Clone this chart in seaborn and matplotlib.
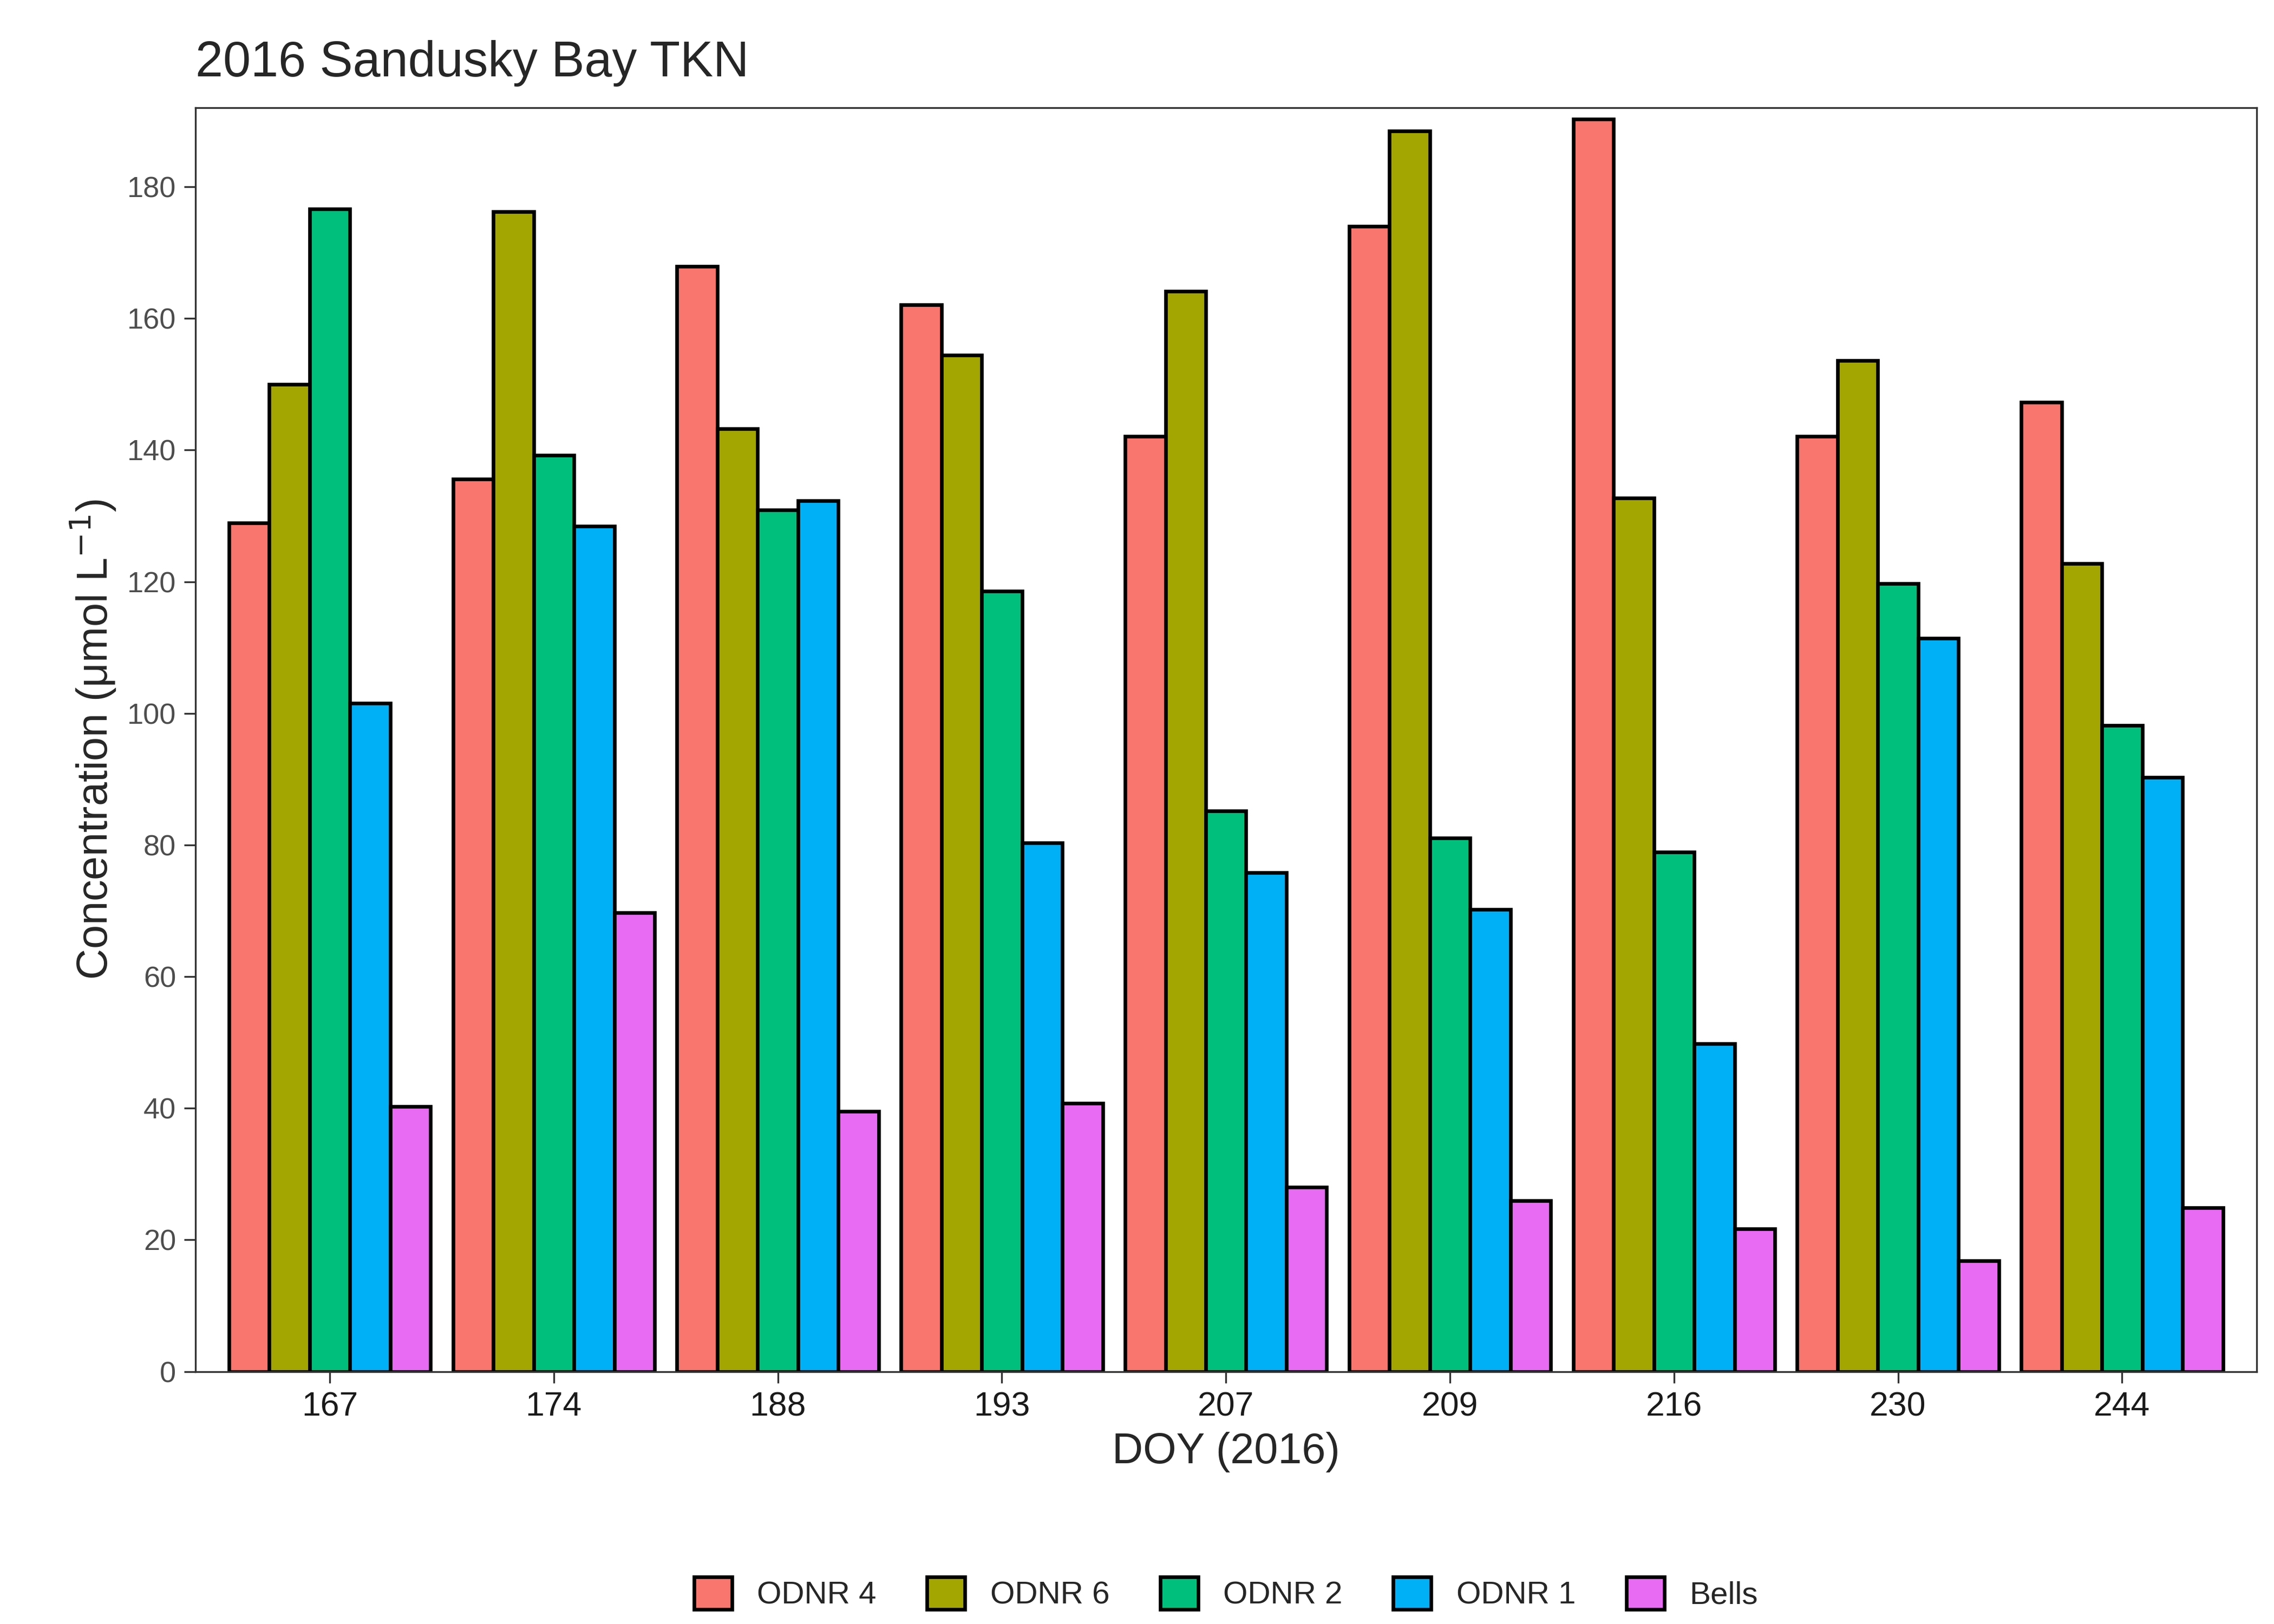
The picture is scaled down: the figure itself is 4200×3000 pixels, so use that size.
import numpy as np
import pandas as pd
import seaborn as sns
import matplotlib.pyplot as plt

days = ['167', '174', '188', '193', '207', '209', '216', '230', '244']
sites = ['ODNR 4', 'ODNR 6', 'ODNR 2', 'ODNR 1', 'Bells']
odnr4 = [128.9, 135.6, 167.9, 162.1, 142.1, 174.0, 190.3, 142.1, 147.3]
odnr6 = [150.0, 176.2, 143.2, 154.4, 164.1, 188.5, 132.7, 153.6, 122.8]
odnr2 = [176.6, 139.2, 130.9, 118.6, 85.2, 81.1, 78.9, 119.7, 98.2]
odnr1 = [101.5, 128.4, 132.3, 80.3, 75.8, 70.2, 49.8, 111.4, 90.3]
bells = [40.3, 69.7, 39.5, 40.8, 28.0, 26.0, 21.7, 16.8, 24.9]
colors = ['#F8766D', '#A3A500', '#00BF7D', '#00B0F6', '#E76BF3']

rows = []
for site, vals in zip(sites, [odnr4, odnr6, odnr2, odnr1, bells]):
    for d, v in zip(days, vals):
        rows.append({'DOY': d, 'Site': site, 'TKN': v})
df = pd.DataFrame(rows)

sns.set_style('white')
plt.rcParams['font.family'] = ['Liberation Sans', 'DejaVu Sans']

fig = plt.figure(figsize=(14, 10), dpi=300)
ax = fig.add_axes([134/1560, 1 - 929/1100, (1548-134)/1560, (929-73)/1100])
sns.barplot(data=df, x='DOY', y='TKN', hue='Site', order=days, hue_order=sites,
            palette=colors, width=0.9, gap=0, edgecolor='black', linewidth=1.6,
            saturation=1, ax=ax)
ax.set_ylim(0, 192)
ax.set_xlim(-0.6, 8.6)
ax.set_yticks(range(0, 181, 20))
for s in ax.spines.values():
    s.set_color('#333333')
    s.set_linewidth(0.8)
ax.tick_params(axis='both', length=5, width=0.8, color='#333333', direction='out',
               bottom=True, left=True)
ax.tick_params(axis='y', labelsize=13, labelcolor='#4d4d4d')
ax.tick_params(axis='x', labelsize=15, labelcolor='#1a1a1a')
ax.set_xlabel('DOY (2016)', fontsize=19)
ax.set_ylabel('Concentration (μmol L$^{-1}$)', fontsize=19)
ax.set_title('2016 Sandusky Bay TKN', fontsize=22, loc='left', pad=14)
ax.legend(title=None, loc='upper center', bbox_to_anchor=(0.5, -0.14), ncol=5,
          frameon=False, fontsize=14, handlelength=1.2, handleheight=1.2,
          columnspacing=1.6)
fig.savefig('out.png', dpi=300)
